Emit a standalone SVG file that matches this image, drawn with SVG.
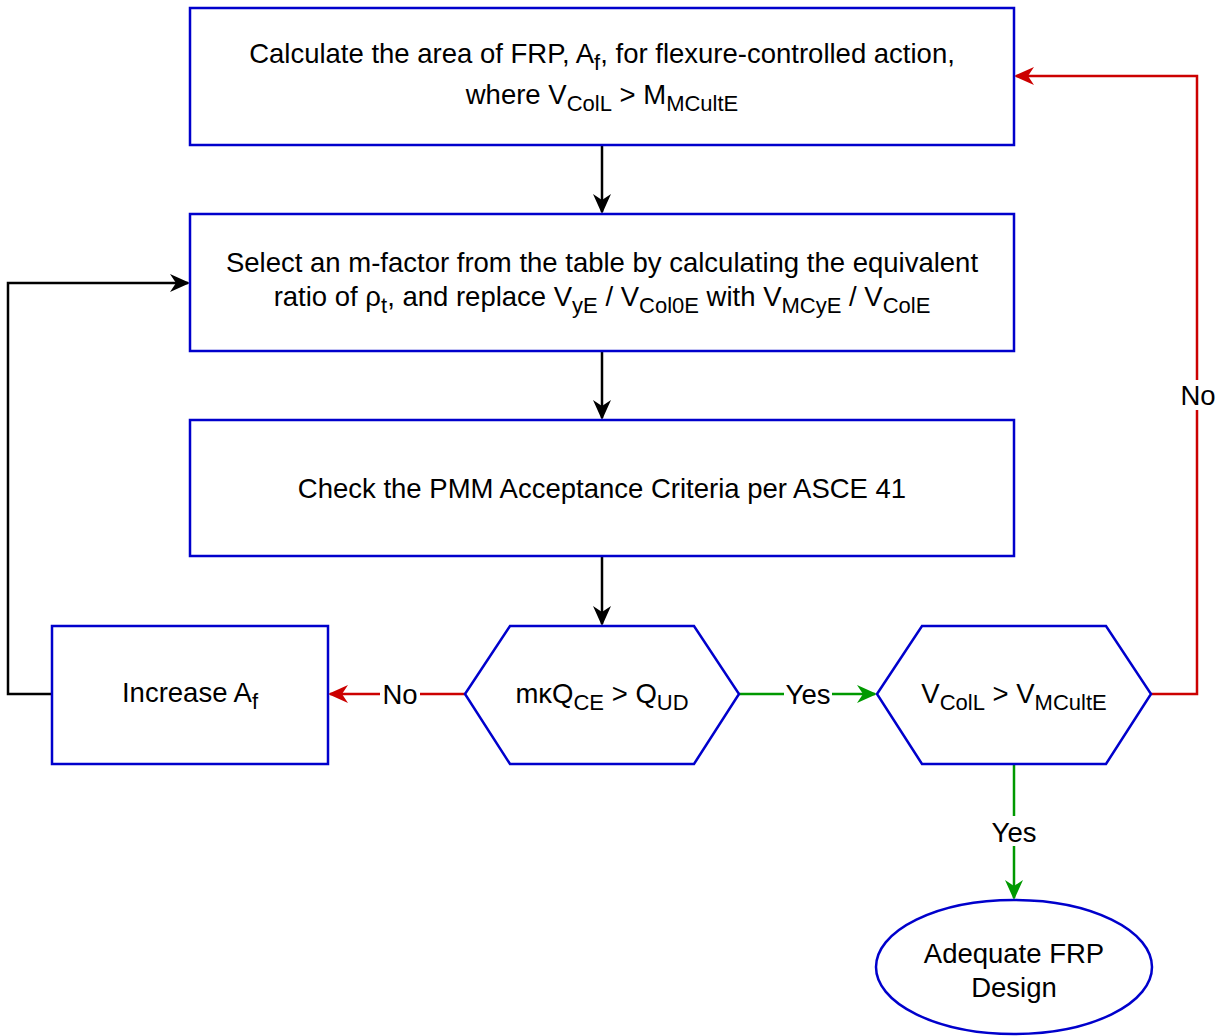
<svg xmlns="http://www.w3.org/2000/svg" width="1225" height="1036" viewBox="0 0 1225 1036">
<style>
.box{fill:#fff;stroke:#0000cc;stroke-width:2.5}
text{font-family:"Liberation Sans",Arial,sans-serif;font-size:27.5px;fill:#000;text-anchor:middle}
.sub{font-size:22px}
.ln{fill:none;stroke-width:2.5}
.k{stroke:#000}.r{stroke:#cc0000}.g{stroke:#009900}
.lbl{fill:#fff;stroke:none}
</style>
<defs>
<marker id="ak" viewBox="0 0 10 10" refX="9" refY="5" markerWidth="20" markerHeight="20" markerUnits="userSpaceOnUse" orient="auto"><path d="M0,0.5 L10,5 L0,9.5 L3,5 Z" fill="#000"/></marker>
<marker id="ar" viewBox="0 0 10 10" refX="9" refY="5" markerWidth="20" markerHeight="20" markerUnits="userSpaceOnUse" orient="auto"><path d="M0,0.5 L10,5 L0,9.5 L3,5 Z" fill="#cc0000"/></marker>
<marker id="ag" viewBox="0 0 10 10" refX="9" refY="5" markerWidth="20" markerHeight="20" markerUnits="userSpaceOnUse" orient="auto"><path d="M0,0.5 L10,5 L0,9.5 L3,5 Z" fill="#009900"/></marker>
</defs>
<rect width="1225" height="1036" fill="#fff"/>
<g id="connectors">
<path class="ln k" d="M602,146 V212" marker-end="url(#ak)"/>
<path class="ln k" d="M602,352 V418" marker-end="url(#ak)"/>
<path class="ln k" d="M602,557 V624" marker-end="url(#ak)"/>
<path class="ln k" d="M52,694 H8 V283 H188" marker-end="url(#ak)"/>
<path class="ln r" d="M465,694 H330" marker-end="url(#ar)"/>
<path class="ln g" d="M739,694 H875" marker-end="url(#ag)"/>
<path class="ln g" d="M1014,765 V898" marker-end="url(#ag)"/>
<path class="ln r" d="M1151,694 H1197 V76 H1016" marker-end="url(#ar)"/>
<rect class="lbl" x="380" y="680" width="40" height="28"/>
<text x="400" y="704">No</text>
<rect class="lbl" x="784" y="680" width="48" height="28"/>
<text x="808" y="704">Yes</text>
<rect class="lbl" x="990" y="816" width="48" height="30"/>
<text x="1014" y="842">Yes</text>
<rect class="lbl" x="1178" y="380" width="40" height="30"/>
<text x="1198" y="405">No</text>
</g>
<g id="n1">
<rect class="box" x="190" y="8" width="824" height="137"/>
<text x="602" y="63">Calculate the area of FRP, A<tspan class="sub" dy="7">f</tspan><tspan dy="-7">, for flexure-controlled action,</tspan></text>
<text x="602" y="104">where V<tspan class="sub" dy="7">ColL</tspan><tspan dy="-7"> &gt; M</tspan><tspan class="sub" dy="7">MCultE</tspan></text>
</g>
<g id="n2">
<rect class="box" x="190" y="214" width="824" height="137"/>
<text x="602" y="272">Select an m-factor from the table by calculating the equivalent</text>
<text x="602" y="306">ratio of ρ<tspan class="sub" dy="7">t</tspan><tspan dy="-7">, and replace V</tspan><tspan class="sub" dy="7">yE</tspan><tspan dy="-7"> / V</tspan><tspan class="sub" dy="7">Col0E</tspan><tspan dy="-7"> with V</tspan><tspan class="sub" dy="7">MCyE</tspan><tspan dy="-7"> / V</tspan><tspan class="sub" dy="7">ColE</tspan></text>
</g>
<g id="n3">
<rect class="box" x="190" y="420" width="824" height="136"/>
<text x="602" y="498">Check the PMM Acceptance Criteria per ASCE 41</text>
</g>
<g id="n4">
<rect class="box" x="52" y="626" width="276" height="138"/>
<text x="190" y="702">Increase A<tspan class="sub" dy="7">f</tspan></text>
</g>
<g id="n5">
<polygon class="box" points="465,694 510,626 694,626 739,694 694,764 510,764"/>
<text x="602" y="703">mκQ<tspan class="sub" dy="7">CE</tspan><tspan dy="-7"> &gt; Q</tspan><tspan class="sub" dy="7">UD</tspan></text>
</g>
<g id="n6">
<polygon class="box" points="877,694 922,626 1106,626 1151,694 1106,764 922,764"/>
<text x="1014" y="703">V<tspan class="sub" dy="7">ColL</tspan><tspan dy="-7"> &gt; V</tspan><tspan class="sub" dy="7">MCultE</tspan></text>
</g>
<g id="n7">
<ellipse class="box" cx="1014" cy="967" rx="138" ry="67"/>
<text x="1014" y="963">Adequate FRP</text>
<text x="1014" y="997">Design</text>
</g>
</svg>
